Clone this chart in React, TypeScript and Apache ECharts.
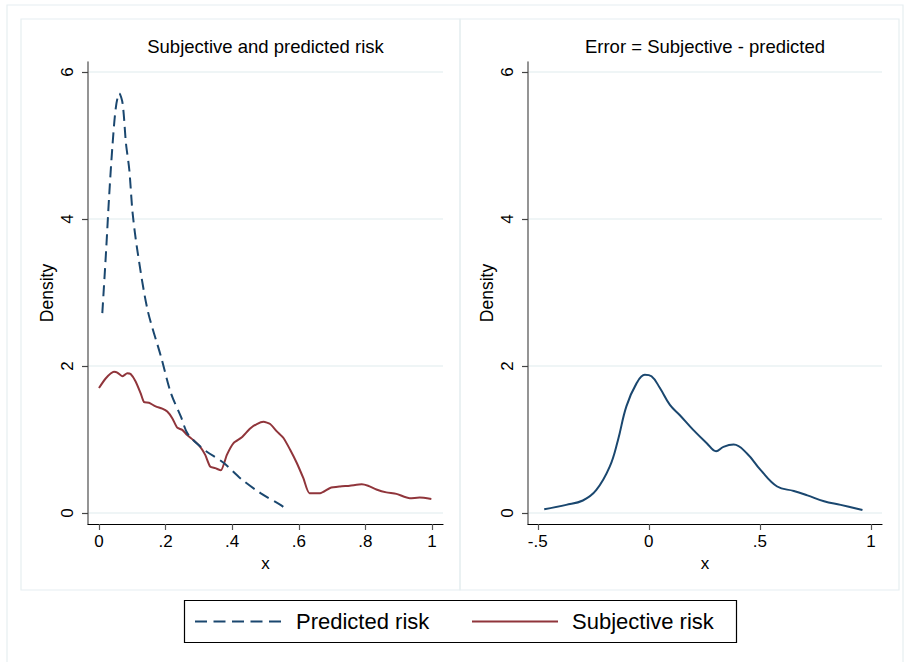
import React, { useEffect, useRef } from "react";
import * as echarts from "echarts";

// ---------- data ----------
const predictedRisk: [number, number][] = [
  [0.01, 2.72], [0.021, 3.54], [0.031, 4.35], [0.041, 5.03], [0.051, 5.53],
  [0.061, 5.71], [0.071, 5.57], [0.081, 5.03], [0.091, 4.67], [0.101, 4.08],
  [0.116, 3.55], [0.146, 2.76], [0.186, 2.13], [0.216, 1.63], [0.246, 1.31],
  [0.266, 1.08], [0.305, 0.9], [0.325, 0.83], [0.375, 0.68], [0.425, 0.47],
  [0.485, 0.27], [0.545, 0.11], [0.56, 0.06],
];

const subjectiveRisk: [number, number][] = [
  [0.0, 1.7], [0.02, 1.83], [0.045, 1.92], [0.055, 1.91], [0.07, 1.86],
  [0.085, 1.9], [0.095, 1.89], [0.11, 1.79], [0.125, 1.63], [0.135, 1.51],
  [0.15, 1.5], [0.17, 1.45], [0.19, 1.42], [0.205, 1.38], [0.22, 1.29],
  [0.235, 1.16], [0.25, 1.13], [0.265, 1.06], [0.284, 0.99], [0.304, 0.9],
  [0.319, 0.79], [0.334, 0.63], [0.349, 0.61], [0.366, 0.58], [0.384, 0.79],
  [0.404, 0.95], [0.429, 1.03], [0.454, 1.15], [0.474, 1.21], [0.494, 1.24],
  [0.514, 1.21], [0.534, 1.11], [0.554, 1.02], [0.574, 0.86], [0.594, 0.68],
  [0.614, 0.47], [0.632, 0.27], [0.664, 0.27], [0.694, 0.34], [0.724, 0.36],
  [0.753, 0.37], [0.789, 0.39], [0.808, 0.37], [0.833, 0.32], [0.863, 0.28],
  [0.893, 0.26], [0.933, 0.2], [0.963, 0.21], [0.998, 0.19],
];

const errorDensity: [number, number][] = [
  [-0.471, 0.05], [-0.372, 0.11], [-0.297, 0.17], [-0.237, 0.31], [-0.176, 0.63],
  [-0.139, 0.99], [-0.101, 1.45], [-0.056, 1.76], [-0.018, 1.88], [0.012, 1.86],
  [0.05, 1.7], [0.095, 1.47], [0.14, 1.33], [0.2, 1.13], [0.261, 0.95],
  [0.303, 0.84], [0.336, 0.9], [0.382, 0.93], [0.442, 0.81], [0.502, 0.59],
  [0.578, 0.36], [0.653, 0.3], [0.714, 0.24], [0.789, 0.16], [0.864, 0.11],
  [0.962, 0.04],
];

const leftXTicks = [0, 0.2, 0.4, 0.6, 0.8, 1];
const rightXTicks = [-0.5, 0, 0.5, 1];
const yTicks = [0, 2, 4, 6];

const panelTitles = ["Subjective and predicted risk", "Error = Subjective - predicted"];
const seriesNames = ["Predicted risk", "Subjective risk"];

const NAVY = "#1a476f";
const MAROON = "#90353b";
const GRID = "#eaf2f3";
const FONT = "'Liberation Sans', Arial, sans-serif";

const fmt = (v: number) => {
  const s = String(Math.round(v * 100) / 100);
  return s.replace(/^(-?)0\./, "$1.");
};

export default function App() {
  const ref = useRef<HTMLDivElement>(null);
  useEffect(() => {
    document.body.style.margin = "0";
    const chart = echarts.init(ref.current!, null, { renderer: "svg" });

    const xAxisCommon = (ticks: number[], min: number, max: number, gridIndex: number) => ({
      type: "value",
      gridIndex,
      min,
      max,
      name: "x",
      nameLocation: "middle",
      nameGap: 27,
      nameTextStyle: { fontSize: 17, color: "#000", fontFamily: FONT },
      axisLine: { show: true, onZero: false, lineStyle: { color: "#000", width: 1.2 } },
      axisTick: { show: true, length: 6, customValues: ticks, lineStyle: { color: "#555", width: 1.2 } },
      axisLabel: { customValues: ticks, formatter: fmt, fontSize: 17, color: "#000", margin: 9, fontFamily: FONT },
      splitLine: { show: false },
    });

    const yAxisCommon = (gridIndex: number) => ({
      type: "value",
      gridIndex,
      min: -0.15,
      max: 6.136,
      name: "Density",
      nameLocation: "middle",
      nameRotate: 90,
      nameGap: 32,
      nameTextStyle: { fontSize: 17.5, color: "#000", fontFamily: FONT },
      axisLine: { show: true, onZero: false, lineStyle: { color: "#7a7a7a", width: 1.6 } },
      axisTick: { show: true, length: 6, customValues: yTicks, lineStyle: { color: "#444", width: 1.2 } },
      axisLabel: { customValues: yTicks, formatter: fmt, rotate: 90, fontSize: 17, color: "#000", margin: 12, fontFamily: FONT },
      splitLine: { show: true, lineStyle: { color: GRID, width: 1.5 } },
    });

    const option: any = {
      animation: false,
      backgroundColor: "#fff",
      textStyle: { fontFamily: FONT },
      grid: [
        { left: 88, top: 62, width: 355, height: 462, outerBoundsMode: "none", containLabel: false },
        { left: 528, top: 62, width: 354, height: 462, outerBoundsMode: "none", containLabel: false },
      ],
      xAxis: [xAxisCommon(leftXTicks, -0.033, 1.033, 0), xAxisCommon(rightXTicks, -0.544, 1.05, 1)],
      yAxis: [yAxisCommon(0), yAxisCommon(1)],
      series: [
        {
          name: seriesNames[0],
          type: "line",
          xAxisIndex: 0,
          yAxisIndex: 0,
          data: predictedRisk,
          showSymbol: false,
          symbol: "none",
          smooth: 0.3,
          lineStyle: { color: NAVY, width: 2, type: [11, 6] },
          z: 3,
        },
        {
          name: seriesNames[1],
          type: "line",
          xAxisIndex: 0,
          yAxisIndex: 0,
          data: subjectiveRisk,
          showSymbol: false,
          symbol: "none",
          smooth: 0.2,
          lineStyle: { color: MAROON, width: 2 },
          z: 2,
        },
        {
          name: "Error",
          type: "line",
          xAxisIndex: 1,
          yAxisIndex: 1,
          data: errorDensity,
          showSymbol: false,
          symbol: "none",
          smooth: 0.4,
          lineStyle: { color: NAVY, width: 2 },
        },
      ],
      graphic: [
        { type: "rect", z: -10, silent: true, shape: { x: 7, y: 5, width: 896, height: 660 }, style: { fill: "none", stroke: "#e6eef1", lineWidth: 1.2 } },
        { type: "rect", z: -10, silent: true, shape: { x: 21, y: 19, width: 439, height: 571 }, style: { fill: "none", stroke: "#e6eef1", lineWidth: 1.2 } },
        { type: "rect", z: -10, silent: true, shape: { x: 460, y: 19, width: 439, height: 571 }, style: { fill: "none", stroke: "#e6eef1", lineWidth: 1.2 } },
        { type: "text", x: 265.5, y: 46, style: { text: panelTitles[0], fontSize: 18.5, fill: "#000", align: "center", verticalAlign: "middle", fontFamily: FONT } },
        { type: "text", x: 705, y: 46, style: { text: panelTitles[1], fontSize: 18.5, fill: "#000", align: "center", verticalAlign: "middle", fontFamily: FONT } },
        { type: "rect", shape: { x: 184.5, y: 600.5, width: 552, height: 42 }, style: { fill: "#fff", stroke: "#000", lineWidth: 1.2 } },
        { type: "line", shape: { x1: 195, y1: 621.5, x2: 281, y2: 621.5 }, style: { stroke: NAVY, lineWidth: 2, lineDash: [12, 6.5] } },
        { type: "text", x: 296, y: 621.5, style: { text: seriesNames[0], fontSize: 22, fill: "#000", align: "left", verticalAlign: "middle", fontFamily: FONT } },
        { type: "line", shape: { x1: 472, y1: 621.5, x2: 558, y2: 621.5 }, style: { stroke: MAROON, lineWidth: 2 } },
        { type: "text", x: 572, y: 621.5, style: { text: seriesNames[1], fontSize: 22, fill: "#000", align: "left", verticalAlign: "middle", fontFamily: FONT } },
      ],
    };

    chart.setOption(option);
    return () => chart.dispose();
  }, []);

  return <div ref={ref} style={{ width: 904, height: 662 }} />;
}
